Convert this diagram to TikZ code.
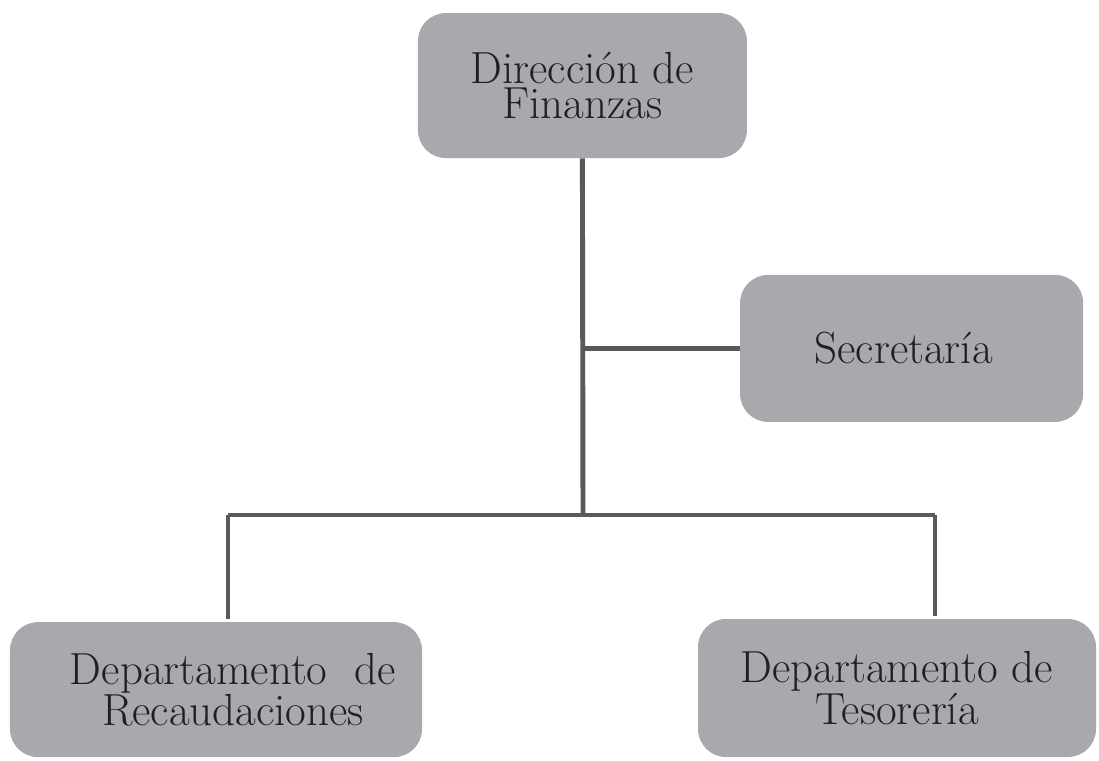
\documentclass[tikz,border=0pt]{standalone}
\usepackage{xcolor}
\usepackage{tikz}
\usetikzlibrary{positioning}
\definecolor{boxgray}{HTML}{A7A9AC}
\definecolor{linegray}{HTML}{58595B}
\definecolor{ink}{HTML}{231F20}

\begin{document}
\begin{tikzpicture}[
  font=\fontsize{32}{25}\selectfont,
  unit/.style={fill=boxgray, rounded corners=0.7cm, align=center, text=ink, inner sep=0pt},
  link/.style={draw=linegray, line width=3.5pt}
]
\useasboundingbox (0,0) rectangle (27.475,-19.025);
% level 1: direction and staff unit
\node[unit, minimum width=8.225cm, minimum height=3.625cm] (dir) at (14.56,-2.14) {Dirección de\\Finanzas};
\node[unit, minimum width=8.575cm, minimum height=3.675cm] (sec) at (22.79,-8.71) {\hspace*{-0.4cm}Secretaría};
% level 2: departments
\node[unit, minimum width=10.3cm, minimum height=3.375cm] (rec) at (5.4,-17.24) {\hspace*{0.85cm}Departamento\ \ de\\\hspace*{0.85cm}Recaudaciones};
\node[unit, minimum width=9.95cm, minimum height=3.45cm] (tes) at (22.425,-17.2) {Departamento de\\Tesorería};

\coordinate (trunk) at (14.575,-12.875);
\coordinate (busL) at (5.7,-12.875);
\coordinate (busR) at (23.375,-12.875);

\draw[link] (dir.south) -- (trunk);
\draw[link] (dir.south |- sec.west) -- (sec.west);
\draw[link] (busL) -- (busR);
\draw[link] (busL) -- ([yshift=2pt]busL |- rec.north);
\draw[link] (busR) -- ([yshift=2pt]busR |- tes.north);
\end{tikzpicture}
\end{document}
